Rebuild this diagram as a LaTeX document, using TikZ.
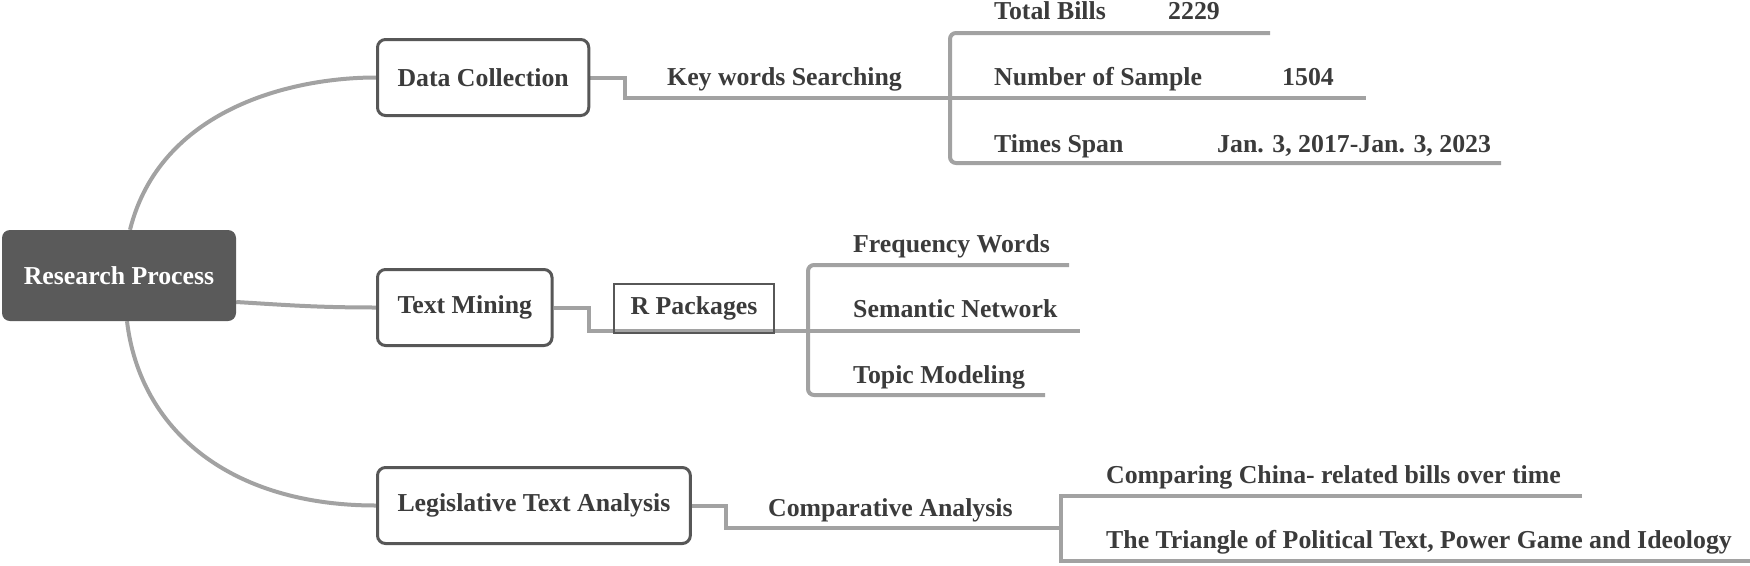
\documentclass[tikz,border=0pt]{standalone}
\usepackage{fontspec}
\setmainfont{Liberation Serif}
\usetikzlibrary{calc,backgrounds}
\definecolor{txt}{HTML}{3B3B3B}
\definecolor{ln}{HTML}{A2A2A2}
\definecolor{bd}{HTML}{575757}
\definecolor{rootfill}{HTML}{5A5A5A}
\begin{document}
\begin{tikzpicture}[x=1pt,y=-1pt,
  every node/.style={font=\fontsize{25.8}{30}\selectfont\bfseries, text=txt},
  mainbox/.style={draw=bd, line width=3pt, rounded corners=8pt, fill=white, minimum height=76pt, inner xsep=20pt, anchor=west},
  rootbox/.style={fill=rootfill, rounded corners=8pt, minimum width=234pt, minimum height=91pt, text=white},
  conn/.style={draw=ln, line width=4pt},
  lbl/.style={anchor=base west, inner sep=0pt},
  pkgbox/.style={draw=bd, line width=1.2pt, minimum width=160pt, minimum height=49pt, inner sep=0pt}
]
\useasboundingbox (0,0) rectangle (1750,565);

% main nodes
\node[rootbox] (root) at (119,275.5) {Research Process};
\node[mainbox] (dc) at (376,77.5) {Data Collection};
\node[mainbox] (tm) at (376,307.5) {Text Mining};
\node[mainbox] (lta) at (376,505.5) {Legislative Text Analysis};

% junctions and line ends
\coordinate (kj) at (950,98);
\coordinate (tbE) at (1270,33);
\coordinate (nsE) at (1366,98);
\coordinate (tsE) at (1501,163);
\coordinate (tj) at (808,331);
\coordinate (fwE) at (1069,265);
\coordinate (snE) at (1080,331);
\coordinate (tpE) at (1045,395);
\coordinate (lj) at (1061,528);
\coordinate (ccE) at (1582,496);
\coordinate (ttE) at (1750,561);

% labels
\node[lbl] (kw) at (667,85) {Key words Searching};
\node[lbl] (tb) at (994,19) {Total Bills};
\node[lbl] (tbv) at (1168,19) {2229};
\node[lbl] (ns) at (994,85) {Number of Sample};
\node[lbl] (nsv) at (1282,85) {1504};
\node[lbl] (ts) at (994,152) {Times Span};
\node[lbl] (tsv) at (1217,152) {Jan. 3, 2017-Jan. 3, 2023};

\node[pkgbox] (rp) at (694,308.5) {R Packages};
\node[lbl] (fw) at (853,252) {Frequency Words};
\node[lbl] (sn) at (853,317) {Semantic Network};
\node[lbl] (tp) at (853,383) {Topic Modeling};

\node[lbl] (ca) at (768,516) {Comparative Analysis};
\node[lbl] (cc) at (1106,483) {Comparing China- related bills over time};
\node[lbl] (tt) at (1106,548) {The Triangle of Political Text, Power Game and Ideology};

\begin{scope}[on background layer]
  \draw[conn] ($(root.north)+(11,0)$) .. controls +(30,-120) and +(-86,0) .. (dc.west);
  \draw[conn] ($(root.east)+(0,26.5)$) .. controls +(50,3) and +(-60,0) .. (tm.west);
  \draw[conn] ($(root.south)+(8,0)$) .. controls +(13,109) and +(-146,0) .. (lta.west);

  \draw[conn] (dc.east) -- ++(35,0) |- (kj);
  \draw[conn, rounded corners=6pt] (tbE) -- (kj |- tbE) -- (kj |- tsE) -- (tsE);
  \draw[conn] (kj) -- (nsE);

  \draw[conn] (tm.east) -- ++(35,0) |- (tj);
  \draw[conn, rounded corners=6pt] (fwE) -- (tj |- fwE) -- (tj |- tpE) -- (tpE);
  \draw[conn] (tj) -- (snE);

  \draw[conn] (lta.east) -- ++(34,0) |- (lj);
  \draw[conn] (ccE) -- (lj |- ccE) -- (lj |- ttE) -- (ttE);
\end{scope}
\end{tikzpicture}
\end{document}
